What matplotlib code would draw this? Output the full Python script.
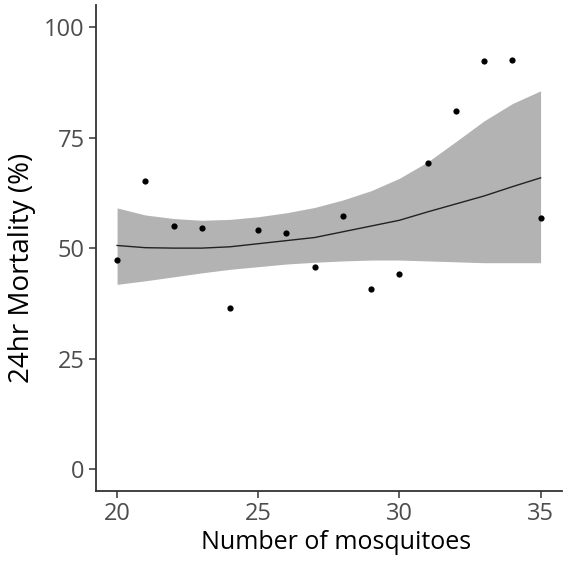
import matplotlib
matplotlib.use("Agg")
import matplotlib.pyplot as plt
import numpy as np

# data points
n_mosq = [20, 21, 22, 23, 24, 25, 26, 27, 28, 29, 30, 31, 32, 33, 34, 35]
mortality = [47.3, 65.2, 55.1, 54.6, 36.5, 54.1, 53.4, 45.7, 57.2, 40.8, 44.1, 69.2, 81.0, 92.3, 92.5, 56.9]

# smooth fit and its confidence band
fit_x = [20, 21, 22, 23, 24, 25, 26, 27, 28, 29, 30, 31, 32, 33, 34, 35]
fit_y = [50.6, 50.1, 50.0, 50.0, 50.3, 51.0, 51.7, 52.4, 53.7, 55.0, 56.3, 58.2, 60.0, 61.8, 63.9, 65.9]
fit_hi = [59.1, 57.5, 56.7, 56.3, 56.5, 57.1, 58.0, 59.2, 60.9, 63.0, 65.8, 69.5, 74.1, 78.8, 82.7, 85.6]
fit_lo = [41.8, 42.6, 43.5, 44.4, 45.2, 45.8, 46.4, 46.8, 47.1, 47.3, 47.3, 47.1, 46.9, 46.7, 46.7, 46.7]

x_ticks = [20, 25, 30, 35]
y_ticks = [0, 25, 50, 75, 100]

plt.rcParams['font.family'] = ['Open Sans', 'DejaVu Sans']

fig = plt.figure(figsize=(5.64, 5.62), dpi=100)
ax = fig.add_axes([0.170, 0.126, 0.826, 0.865])

ax.fill_between(fit_x, fit_lo, fit_hi, color='#b3b3b3', linewidth=0, zorder=1)
ax.plot(fit_x, fit_y, color='#222222', linewidth=1.0, zorder=2)
ax.scatter(n_mosq, mortality, s=20, color='black', zorder=3, linewidths=0)

ax.set_xlim(19.25, 35.75)
ax.set_ylim(-5, 105)
ax.set_xticks(x_ticks)
ax.set_yticks(y_ticks)
ax.tick_params(axis='both', colors='#333333', length=5, width=1.1,
               labelsize=17, labelcolor='#4d4d4d', pad=3)

for side in ['top', 'right']:
    ax.spines[side].set_visible(False)
for side in ['left', 'bottom']:
    ax.spines[side].set_color('#333333')
    ax.spines[side].set_linewidth(1.3)

ax.set_xlabel('Number of mosquitoes', fontsize=18, color='black')
ax.set_ylabel('24hr Mortality (%)', fontsize=20, color='black')
ax.xaxis.set_label_coords(0.515, -0.079)
ax.yaxis.set_label_coords(-0.128, 0.46)

fig.savefig('out.png', dpi=100)
